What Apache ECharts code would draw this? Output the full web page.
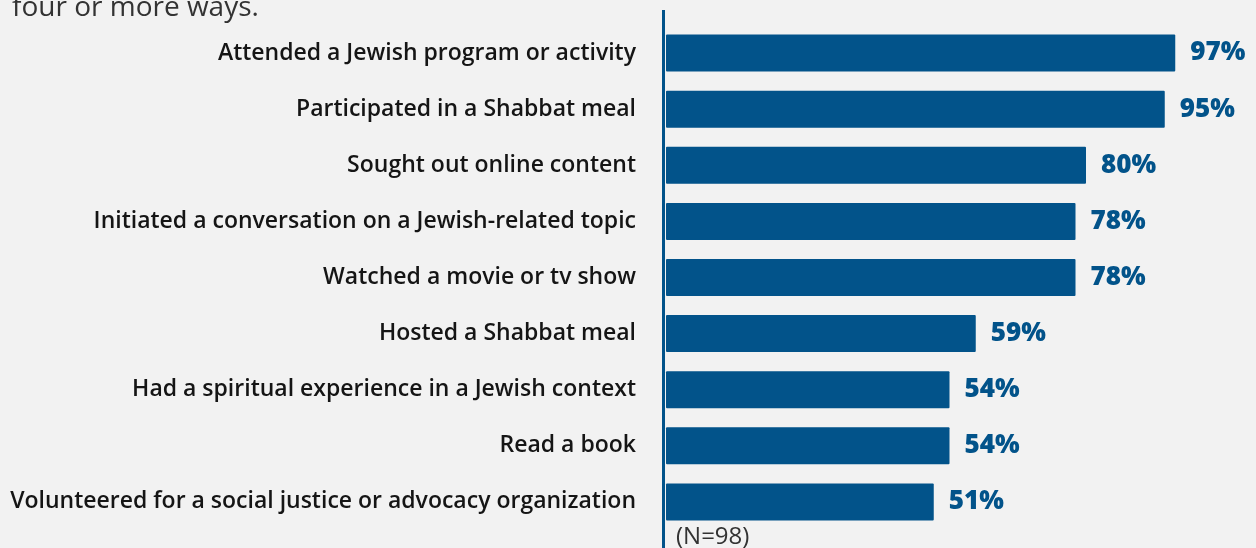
<!DOCTYPE html>
<html>
<head>
<meta charset="utf-8">
<script src="https://cdn.jsdelivr.net/npm/echarts@6/dist/echarts.min.js"></script>
<style>
  html, body { margin: 0; padding: 0; background: #f2f2f2; }
  #chart { width: 1256px; height: 548px; }
</style>
</head>
<body>
<div id="chart"></div>
<script>
const categories = [
  'Attended a Jewish program or activity',
  'Participated in a Shabbat meal',
  'Sought out online content',
  'Initiated a conversation on a Jewish-related topic',
  'Watched a movie or tv show',
  'Hosted a Shabbat meal',
  'Had a spiritual experience in a Jewish context',
  'Read a book',
  'Volunteered for a social justice or advocacy organization'
];
const values = [97, 95, 80, 78, 78, 59, 54, 54, 51];
const subtitle = 'four or more ways.';
const note = '(N=98)';

const BLUE = '#02538a';
const FONT = '"Open Sans"';
const chart = echarts.init(document.getElementById('chart'), null, { renderer: 'canvas' });

chart.setOption({
  backgroundColor: '#f2f2f2',
  animation: false,
  grid: { left: 666, right: 65, top: 25, bottom: 18 },
  xAxis: {
    type: 'value',
    min: 0,
    max: 100,
    show: false
  },
  yAxis: {
    type: 'category',
    inverse: true,
    data: categories,
    axisLine: { show: false },
    axisTick: { show: false },
    axisLabel: {
      margin: 30,
      color: '#151515',
      fontFamily: FONT,
      fontWeight: 600,
      fontSize: 23
    }
  },
  series: [{
    type: 'bar',
    data: values,
    barWidth: 37,
    itemStyle: { color: BLUE, borderRadius: 1 },
    label: {
      show: true,
      position: 'right',
      distance: 15,
      formatter: (p) => p.value + '%',
      color: BLUE,
      fontFamily: FONT,
      fontWeight: 800,
      fontSize: 26
    }
  }],
  graphic: [
    {
      type: 'rect',
      shape: { x: 662, y: 10, width: 3, height: 538 },
      style: { fill: BLUE },
      silent: true
    },
    {
      type: 'text',
      left: 12,
      top: -6,
      style: {
        text: subtitle,
        fill: '#333333',
        fontFamily: FONT,
        fontSize: 28
      }
    },
    {
      type: 'text',
      left: 676,
      top: 525,
      style: {
        text: note,
        fill: '#333333',
        fontFamily: FONT,
        fontSize: 24
      }
    }
  ]
});
</script>
</body>
</html>
